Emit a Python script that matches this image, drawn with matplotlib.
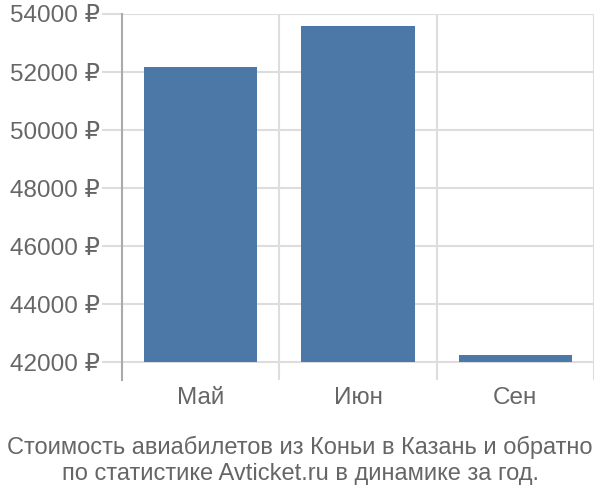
import matplotlib
matplotlib.use("Agg")
import matplotlib.pyplot as plt

categories = ["Май", "Июн", "Сен"]
prices = [52170, 53580, 42240]
yticks = [42000, 44000, 46000, 48000, 50000, 52000, 54000]
ytick_labels = [f"{v} ₽" for v in yticks]
title_lines = ["Стоимость авиабилетов из Коньи в Казань и обратно",
               "по статистике Avticket.ru в динамике за год."]

plt.rcParams['font.family'] = ['Liberation Sans', 'DejaVu Sans']
text_color = "#666666"
grid_color = "#dddddd"

fig = plt.figure(figsize=(6, 5), dpi=100)
ax = fig.add_axes([122/600, 1-380/500, (594-122)/600, (380-14)/500])

base = 42000
x = list(range(len(categories)))
ax.bar(x, [p - base for p in prices], bottom=base, width=0.72,
       color="#4c78a8", zorder=3)

ax.set_xlim(-0.5, len(categories) - 0.5)
ax.set_ylim(41380, 54000)
ax.set_yticks(yticks)
ax.set_yticklabels(ytick_labels)
ax.set_xticks(x)
ax.set_xticklabels(categories)

for v in yticks:
    ax.axhline(v, color=grid_color, lw=1.5, zorder=1)
for b in [0.5, 1.5, 2.5]:
    ax.axvline(b, color=grid_color, lw=1.5, zorder=1)

for s in ["top", "right", "bottom"]:
    ax.spines[s].set_visible(False)
ax.spines["left"].set_color("#aaaaaa")
ax.spines["left"].set_linewidth(1.5)

ax.tick_params(axis="y", length=14.4, width=1.5, color=grid_color,
               labelsize=17.5, labelcolor=text_color, pad=1.5)
ax.tick_params(axis="x", length=0, labelsize=17.5, labelcolor=text_color, pad=5)

fig.text(0.5, 1-447/500, title_lines[0], ha="center", va="center",
         fontsize=17, color=text_color)
fig.text(0.5, 1-474/500, title_lines[1], ha="center", va="center",
         fontsize=17, color=text_color)

fig.savefig("out.png", dpi=100)
